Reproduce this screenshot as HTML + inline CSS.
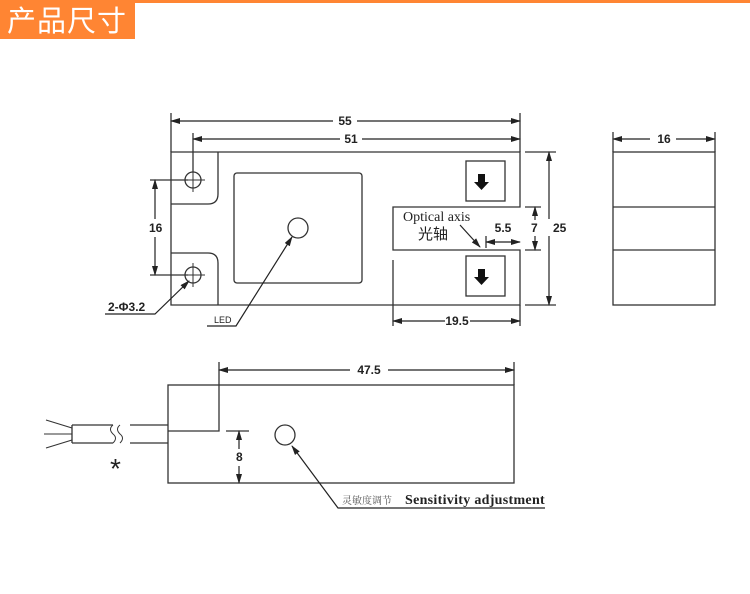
<!DOCTYPE html>
<html><head><meta charset="utf-8"><style>
body{margin:0;width:750px;height:594px;background:#fff;overflow:hidden;position:relative}
#hb{position:absolute;left:0;top:0;width:750px;height:3px;background:#ff8533}
#hd{position:absolute;left:0;top:0;width:135px;height:39px;background:#ff8533;color:#fff;font:29px "Noto Sans CJK SC",sans-serif;line-height:38px;padding-left:7px;box-sizing:border-box;letter-spacing:1px}
svg{position:absolute;left:0;top:0}
text{font-family:"Liberation Sans",sans-serif;font-size:12px;fill:#222}
.s{font-family:"Liberation Serif","Noto Serif CJK SC",serif}
</style></head><body>
<div id="hb"></div><div id="hd">产品尺寸</div>
<svg width="750" height="594" viewBox="0 0 750 594">
<defs><marker id="a" markerWidth="10" markerHeight="6" refX="9" refY="3" orient="auto-start-reverse" markerUnits="userSpaceOnUse"><path d="M0,0 L10,3 L0,6z" fill="#222"/></marker></defs>
<g stroke="#333" stroke-width="1.3" fill="none">
<path d="M171,152 H520 V207 H393 V250 H520 V305 H171 Z"/>
<path d="M218,152 V194 Q218,204 208,204 H171"/>
<path d="M171,253 H208 Q218,253 218,263 V305"/>
<rect x="234" y="173" width="128" height="110" rx="3"/>
<circle cx="298" cy="228" r="10"/>
<circle cx="193" cy="180" r="8"/><circle cx="193" cy="275" r="8"/>
<path d="M181,180 H205 M193,168 V192 M181,275 H205 M193,263 V287" stroke-width="1"/>
<rect x="466" y="161" width="39" height="40"/><rect x="466" y="256" width="39" height="40"/>
<path d="M171,113 V152 M193,133 V172 M520,113 V152 M393,260 V326 M520,305 V326"/>
<path d="M525,152 H556 M525,305 H556 M525,207 H541 M525,250 H541"/>
<path d="M150,180 H188 M150,275 H188"/>
<path d="M486,236 V248" />
</g>
<g stroke="#222" stroke-width="1.2" fill="none">
<line x1="171" y1="121" x2="333" y2="121" marker-start="url(#a)"/><line x1="357" y1="121" x2="520" y2="121" marker-end="url(#a)"/>
<line x1="193" y1="139" x2="340" y2="139" marker-start="url(#a)"/><line x1="362" y1="139" x2="520" y2="139" marker-end="url(#a)"/>
<line x1="549" y1="152" x2="549" y2="219" marker-start="url(#a)"/><line x1="549" y1="236" x2="549" y2="305" marker-end="url(#a)"/>
<line x1="535" y1="207" x2="535" y2="220" marker-start="url(#a)"/><line x1="535" y1="236" x2="535" y2="250" marker-end="url(#a)"/>
<line x1="486" y1="242" x2="520" y2="242" marker-start="url(#a)" marker-end="url(#a)"/>
<line x1="393" y1="321" x2="445" y2="321" marker-start="url(#a)"/><line x1="470" y1="321" x2="520" y2="321" marker-end="url(#a)"/>
<line x1="155" y1="180" x2="155" y2="219" marker-start="url(#a)"/><line x1="155" y1="237" x2="155" y2="275" marker-end="url(#a)"/>
<line x1="460" y1="225" x2="480" y2="247" marker-end="url(#a)"/>
<polyline points="105,314 155,314 189,281" marker-end="url(#a)"/>
<polyline points="207,326 236,326 292,237" marker-end="url(#a)"/>
<line x1="613" y1="139" x2="650" y2="139" marker-start="url(#a)"/><line x1="676" y1="139" x2="715" y2="139" marker-end="url(#a)"/>
</g>
<g stroke="#333" stroke-width="1.3" fill="none">
<path d="M613,132 V152 M715,132 V152"/>
<rect x="613" y="152" width="102" height="153"/>
<path d="M613,207 H715 M613,250 H715"/>
<rect x="168" y="385" width="346" height="98"/>
<path d="M219,362 V431 H168 M514,362 V385"/>
<path d="M72,425 H113 M130,425 H168 M72,443 H113 M130,443 H168 M72,425 V443"/>
<path d="M113,425 q-5,4 0,9 q5,4 0,9 M120,425 q-5,4 0,9 q5,4 0,9" stroke-width="1"/>
<path d="M72,428 L46,420 M72,434 L44,434 M72,440 L46,448" stroke-width="1.1"/>
<path d="M226,431 H249"/>
<circle cx="285" cy="435" r="10"/>
</g>
<g stroke="#222" stroke-width="1.2" fill="none">
<line x1="219" y1="370" x2="350" y2="370" marker-start="url(#a)"/><line x1="388" y1="370" x2="514" y2="370" marker-end="url(#a)"/>
<line x1="239" y1="431" x2="239" y2="449" marker-start="url(#a)"/><line x1="239" y1="466" x2="239" y2="483" marker-end="url(#a)"/>
<polyline points="545,508 338,508 292,446" marker-end="url(#a)"/>
</g>
<path d="M478,174 h7 v8 h4 l-7.5,8 l-7.5,-8 h4z M478,269 h7 v8 h4 l-7.5,8 l-7.5,-8 h4z" fill="#111"/>
<g style="font-weight:bold">
<text x="345" y="125" text-anchor="middle">55</text>
<text x="351" y="143" text-anchor="middle">51</text>
<text x="553" y="232">25</text>
<text x="531" y="232">7</text>
<text x="503" y="232" text-anchor="middle">5.5</text>
<text x="457" y="325" text-anchor="middle">19.5</text>
<text x="149" y="232">16</text>
<text x="108" y="311">2-Φ3.2</text>
<text x="664" y="143" text-anchor="middle">16</text>
<text x="369" y="374" text-anchor="middle">47.5</text>
<text x="236" y="461">8</text>
</g>
<text x="214" y="323" style="font-size:9px">LED</text>
<text x="403" y="221" class="s" style="font-size:14px">Optical axis</text>
<text x="418" y="239" style="font-family:'Noto Sans CJK SC',sans-serif;font-size:15px">光轴</text>
<text x="110" y="478" style="font-size:28px">*</text>
<text x="342" y="504" style="font-family:'Noto Serif CJK SC',serif;font-size:10px;fill:#555">灵敏度调节</text>
<text x="405" y="504" class="s" style="font-size:14px;font-weight:bold;letter-spacing:0.3px">Sensitivity adjustment</text>
</svg>
</body></html>
